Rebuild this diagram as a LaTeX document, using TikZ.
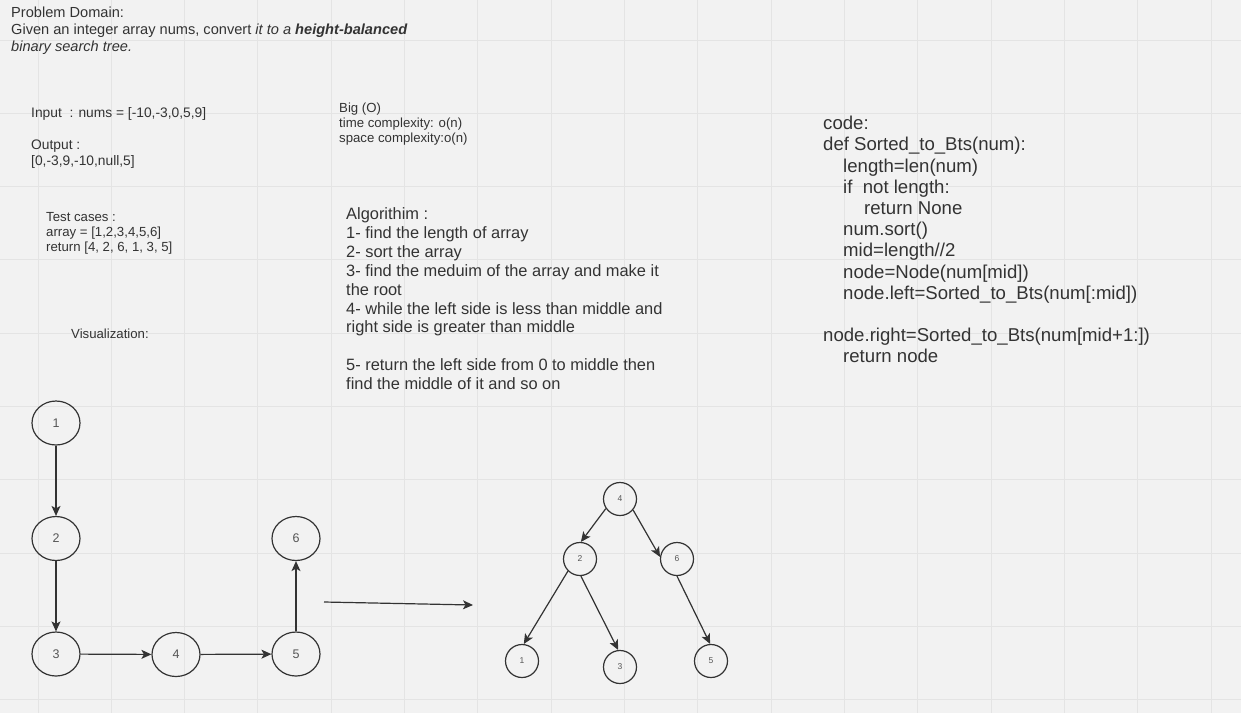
\documentclass[tikz,border=0pt]{standalone}
\usepackage{fontspec}
\setmainfont{Liberation Sans}
\usetikzlibrary{shapes.geometric,arrows.meta}
\definecolor{bg}{HTML}{F2F2F2}
\definecolor{gridc}{HTML}{E4E4E4}
\definecolor{ink}{HTML}{333333}
\definecolor{lbl}{HTML}{555555}
\tikzset{
  txt/.style={anchor=north west, inner sep=0pt, align=left, text=ink},
  lnode/.style={ellipse, draw=ink, line width=1.2pt, minimum width=48pt, minimum height=44pt, inner sep=0pt, text=lbl, font=\fontsize{12.5}{14}\selectfont},
  tnode/.style={circle, draw=ink, line width=1.2pt, minimum size=33pt, inner sep=0pt, text=lbl, font=\fontsize{8.5}{10}\selectfont},
  conn/.style={draw=ink, line width=1.2pt, -{Stealth[length=10pt,width=9pt,inset=2.5pt]}},
}
\begin{document}
\begin{tikzpicture}[x=1pt,y=-1pt]
\fill[bg] (0,0) rectangle (1241,713);
\useasboundingbox (0,0) rectangle (1241,713);
\foreach \i in {0,...,16} \draw[gridc,line width=1pt] ({38+73.33*\i},0) -- ++(0,713);
\foreach \j in {0,...,9} \draw[gridc,line width=1pt] (0,{40+73.33*\j}) -- ++(1241,0);

\node[txt, font=\fontsize{14.6}{17}\selectfont] (pd) at (11,6.6)
  {Problem Domain:\\Given an integer array nums, convert \textit{it to a \textbf{height-balanced}}\\\textit{binary search tree.}};

\node[txt, font=\fontsize{13.8}{16}\selectfont] (io) at (31,107.6)
  {Input~ : nums = [-10,-3,0,5,9]\\[16pt]Output :\\{}[0,-3,9,-10,null,5]};

\node[txt, font=\fontsize{13.2}{15}\selectfont] (bigo) at (339,103)
  {Big (O)\\time complexity: o(n)\\space complexity:o(n)};

\node[txt, font=\fontsize{13.2}{15}\selectfont] (tc) at (46,212)
  {Test cases :\\array = [1,2,3,4,5,6]\\return [4, 2, 6, 1, 3, 5]};

\node[txt, font=\fontsize{16.4}{18.9}\selectfont] (alg) at (346,207.5)
  {Algorithim :\\1- find the length of array\\2- sort the array\\3- find the meduim of the array and make it\\the root\\4- while the left side is less than middle and\\right side is greater than middle\\[18.9pt]5- return the left side from 0 to middle then\\find the middle of it and so on};

\node[txt, font=\fontsize{18.6}{21.2}\selectfont] (code) at (823,116)
  {code:\\def Sorted\_to\_Bts(num):\\
  \hspace*{20pt}length=len(num)\\
  \hspace*{20pt}if~ not length:\\
  \hspace*{41pt}return None\\
  \hspace*{20pt}num.sort()\\
  \hspace*{20pt}mid=length//2\\
  \hspace*{20pt}node=Node(num[mid])\\
  \hspace*{20pt}node.left=Sorted\_to\_Bts(num[:mid])\\[21.2pt]
  node.right=Sorted\_to\_Bts(num[mid+1:])\\
  \hspace*{20pt}return node};

\node[txt, font=\fontsize{13.2}{15}\selectfont] (vis) at (71,329) {Visualization:};

% left graph
\node[lnode] (a1) at (56,423) {1};
\node[lnode] (a2) at (56,538.5) {2};
\node[lnode] (a3) at (56,654) {3};
\node[lnode] (a4) at (176,654.5) {4};
\node[lnode] (a5) at (296,654) {5};
\node[lnode] (a6) at (296,538.5) {6};
\draw[conn] (a1) -- (a2);
\draw[conn] (a2) -- (a3);
\draw[conn] (a3) -- (a4);
\draw[conn] (a4) -- (a5);
\draw[conn] (a5) -- (a6);

\coordinate (la) at (324,602);
\coordinate (lb) at (473,605);
\draw[conn] (la) -- (lb);

% tree
\node[tnode] (t4) at (620,499) {4};
\node[tnode] (t2) at (580,559) {2};
\node[tnode] (t6) at (677,559) {6};
\node[tnode] (t1) at (522,661) {1};
\node[tnode] (t3) at (620,667) {3};
\node[tnode] (t5) at (711,661) {5};
\draw[conn] (t4.214) -- (t2.87);
\draw[conn] (t4.320) -- (t6.173);
\draw[conn] (t2.225) -- (t1.84);
\draw[conn] (t2.273) -- (t3.96);
\draw[conn] (t6.270) -- (t5.93);
\end{tikzpicture}
\end{document}
